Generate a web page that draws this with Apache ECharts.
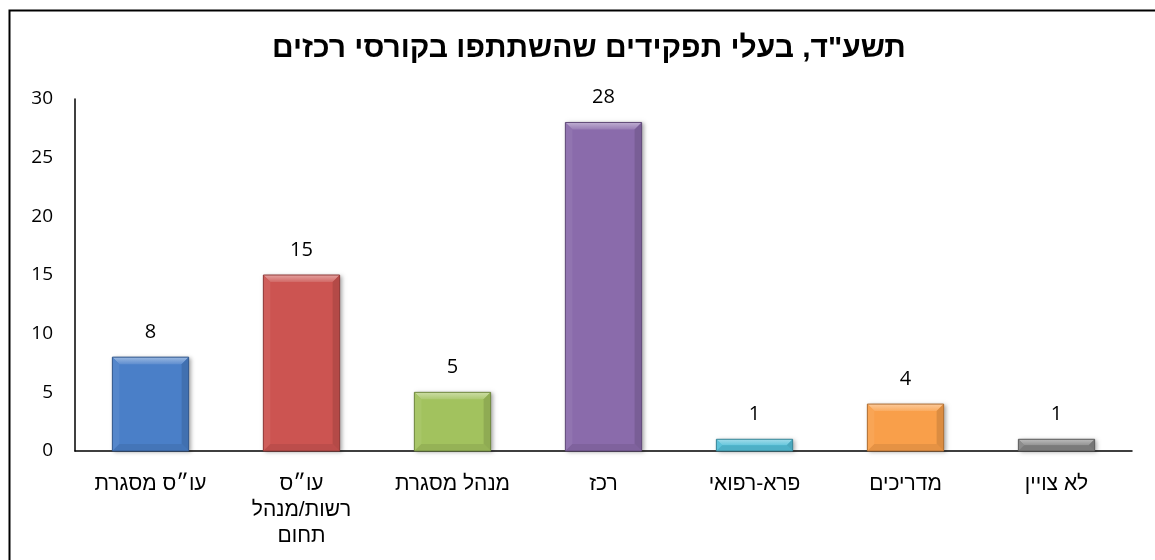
<!DOCTYPE html>
<html lang="he">
<head>
<meta charset="utf-8">
<title>תשע"ד, בעלי תפקידים שהשתתפו בקורסי רכזים</title>
<script src="https://cdn.jsdelivr.net/npm/echarts@6/dist/echarts.min.js"></script>
<style>
  html, body { margin: 0; padding: 0; background: #fff; }
  #chart { width: 1155px; height: 560px; }
</style>
</head>
<body>
<div id="chart"></div>
<script>
// Roles of participants in the coordinators' courses, 2014 (תשע"ד)
const chartTitle = 'תשע"ד, בעלי תפקידים שהשתתפו בקורסי רכזים';
const categories = ['עו״ס מסגרת', 'עו״ס\nרשות/מנהל\nתחום', 'מנהל מסגרת', 'רכז', 'פרא-רפואי', 'מדריכים', 'לא צויין'];
const values = [8, 15, 5, 28, 1, 4, 1];
const yTicks = { min: 0, max: 30, interval: 5 };

// One fill per bar
const barColors = ['#4a7fc8', '#cc5451', '#a2c25e', '#8a6bab', '#55bfd8', '#f99f4a', '#858585'];

function shade(hex, amt) {
  const n = parseInt(hex.slice(1), 16);
  let r = (n >> 16) & 255, g = (n >> 8) & 255, b = n & 255;
  const f = c => amt >= 0 ? Math.round(c + (255 - c) * amt) : Math.round(c * (1 + amt));
  return 'rgb(' + f(r) + ',' + f(g) + ',' + f(b) + ')';
}

const chart = echarts.init(document.getElementById('chart'), null, { renderer: 'canvas' });

// Bevelled column: base rectangle with lighter top and shaded side facets
function renderBar(params, api) {
  const idx = api.value(0);
  const val = api.value(1);
  const top = api.coord([idx, val]);
  const base = api.coord([idx, 0]);
  const band = api.size([1, 0])[0];
  const w = band * 0.505;
  const x0 = top[0] - w / 2, x1 = top[0] + w / 2;
  const y0 = top[1], y1 = base[1];
  const h = y1 - y0;
  const b = Math.min(7, h / 2, w / 2);
  const c = barColors[idx];
  return {
    type: 'group',
    children: [
      { type: 'rect', shape: { x: x0, y: y0, width: w, height: h },
        style: { fill: c, shadowBlur: 4, shadowOffsetX: 2, shadowOffsetY: 1, shadowColor: 'rgba(0,0,0,0.35)' } },
      { type: 'polygon', shape: { points: [[x0, y0], [x1, y0], [x1 - b, y0 + b], [x0 + b, y0 + b]] },
        style: { fill: new echarts.graphic.LinearGradient(0, 0, 0, 1, [
          { offset: 0, color: shade(c, 0.45) }, { offset: 1, color: shade(c, 0.12) }]) } },
      { type: 'polygon', shape: { points: [[x0, y0], [x0 + b, y0 + b], [x0 + b, y1 - b], [x0, y1]] },
        style: { fill: shade(c, 0.06) } },
      { type: 'polygon', shape: { points: [[x1, y0], [x1 - b, y0 + b], [x1 - b, y1 - b], [x1, y1]] },
        style: { fill: shade(c, -0.12) } },
      { type: 'polygon', shape: { points: [[x0, y1], [x0 + b, y1 - b], [x1 - b, y1 - b], [x1, y1]] },
        style: { fill: shade(c, -0.08) } },
      { type: 'rect', shape: { x: x0, y: y0, width: w, height: h },
        style: { fill: 'none', stroke: shade(c, -0.3), lineWidth: 1 } },
      { type: 'text', x: top[0], y: y0 - 15,
        style: { text: String(val), fill: '#000', font: '20px "Open Sans", "Liberation Sans", sans-serif',
                 align: 'center', verticalAlign: 'bottom' } }
    ]
  };
}

chart.setOption({
  animation: false,
  backgroundColor: '#fff',
  title: {
    text: chartTitle,
    left: 272,
    top: 34,
    padding: 0,
    textStyle: { fontFamily: '"Liberation Sans", "DejaVu Sans", sans-serif', fontWeight: 'bold', fontSize: 30, color: '#000' }
  },
  graphic: [{
    type: 'rect', left: 7, top: 8, z: 100, silent: true,
    shape: { width: 1200, height: 600 },
    style: { fill: 'none', stroke: '#000', lineWidth: 2 }
  }],
  grid: { left: 75, right: 23, top: 99, bottom: 109, containLabel: false },
  xAxis: {
    type: 'category',
    data: categories,
    axisLine: { show: true, lineStyle: { color: '#000', width: 1.5 } },
    axisTick: { show: false },
    axisLabel: { interval: 0, margin: 20, color: '#000', fontSize: 21, lineHeight: 26,
                 fontFamily: '"Liberation Sans", "DejaVu Sans", sans-serif' }
  },
  yAxis: {
    type: 'value',
    min: yTicks.min, max: yTicks.max, interval: yTicks.interval,
    axisLine: { show: true, lineStyle: { color: '#000', width: 1.5 } },
    axisTick: { show: false },
    splitLine: { show: false },
    axisLabel: { margin: 22, color: '#000', fontSize: 19,
                 fontFamily: '"Open Sans", "Liberation Sans", sans-serif' }
  },
  series: [{
    type: 'custom',
    renderItem: renderBar,
    encode: { x: 0, y: 1 },
    data: values.map((v, i) => [i, v]),
    z: 3
  }]
});
</script>
</body>
</html>
